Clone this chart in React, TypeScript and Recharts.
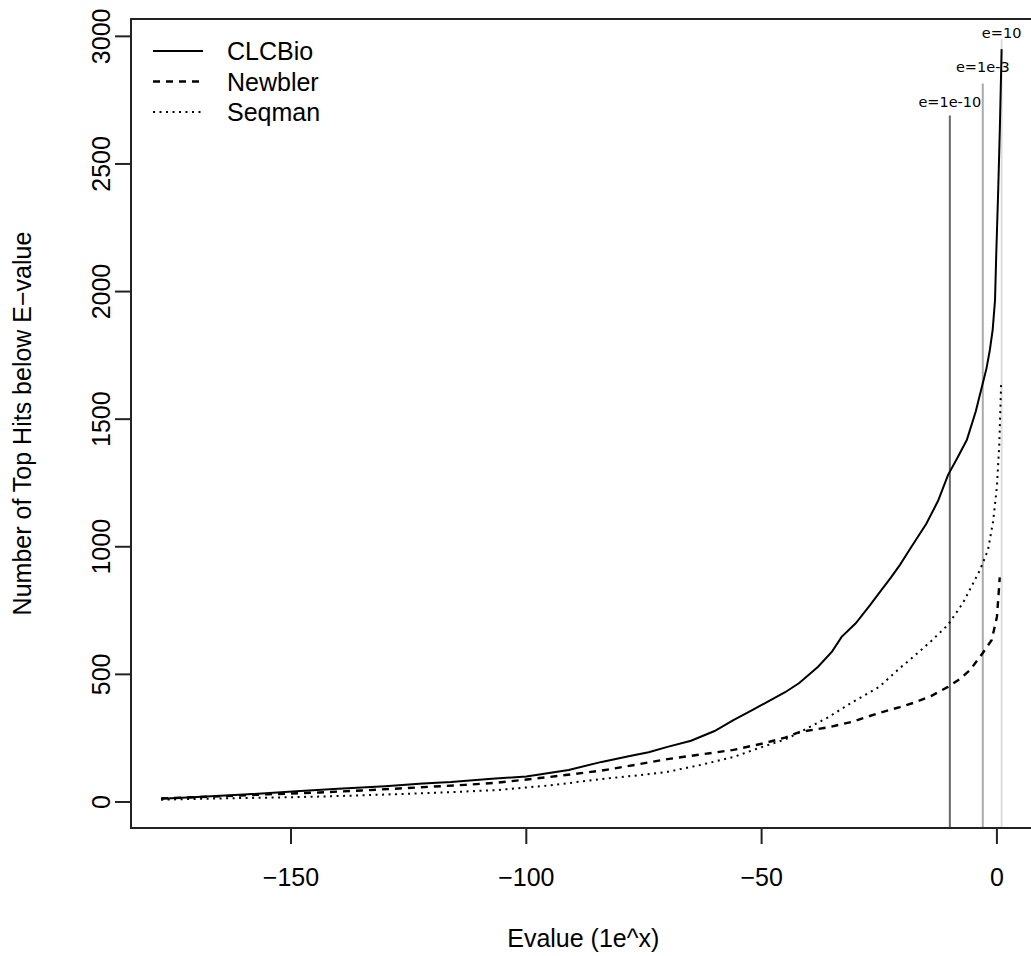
import React from 'react';
import { LineChart, Line, XAxis, YAxis, ReferenceLine, ReferenceDot, ReferenceArea, Legend } from 'recharts';

const clcbio: number[][] = [[-177.6,13],[-170,19],[-160,29],[-148,43],[-140,52],[-130,62],[-122,72],[-116,78],[-108,90],[-100,100],[-91,125],[-84,157],[-78,180],[-74,195],[-70,216],[-65,240],[-60,278],[-56,321],[-52,360],[-48,400],[-45,430],[-42,466],[-38,530],[-35,590],[-33,647],[-30,700],[-27,770],[-25,819],[-22.5,880],[-20.6,929],[-18.5,990],[-15,1090],[-12.5,1180],[-10.4,1281],[-8.5,1345],[-6.4,1418],[-4.5,1530],[-3.2,1626],[-2.2,1700],[-1.5,1771],[-0.9,1850],[-0.4,1967],[-0.15,2140],[0.28,2400],[0.64,2650],[1,2950]];
const newbler: number[][] = [[-177.6,14],[-165,22],[-155,30],[-144,37],[-135,45],[-127,53],[-120,60],[-113,67],[-106,76],[-95,98],[-84,123],[-77,145],[-70,168],[-63,186],[-56,204],[-50,228],[-45,252],[-42,274],[-36,292],[-31,313],[-25,349],[-20.6,372],[-17.8,388],[-14,415],[-10.4,451],[-8,480],[-5.7,517],[-3,584],[-1.1,635],[0,725],[0.3,800],[0.6,880]];
const seqman: number[][] = [[-177.6,9],[-165,14],[-155,17],[-144,21],[-135,26],[-127,31],[-120,36],[-113,41],[-106,47],[-95,65],[-84,90],[-77,103],[-70,118],[-63,145],[-56,176],[-50,215],[-45,245],[-42,272],[-36,330],[-31,388],[-25,451],[-20.6,525],[-17.8,568],[-14,630],[-10.4,694],[-7.2,780],[-3.6,909],[-1.9,987],[-0.8,1100],[0,1235],[0.5,1400],[0.9,1640]];

const xTicks = [-150, -100, -50, 0];
const yTicks = [0, 500, 1000, 1500, 2000, 2500, 3000];
const xDomain = [-184, 8.2];
const yDomain = [-102, 3068];

const cutoffX = [-10, -3, 1];
const cutoffTop = [2690, 2815, 2990];
const cutoffLabelY = [2722, 2862, 2995];
const cutoffLabels = ['e=1e-10', 'e=1e-3', 'e=10'];
const cutoffColors = ['#666666', '#aaaaaa', '#dddddd'];

const seriesNames = ['CLCBio', 'Newbler', 'Seqman'];
const seriesData = [clcbio, newbler, seqman];
const seriesDash = ['0', '7 6', '2 4.5'];
const seriesWidth = [2, 2.4, 2];

const FONT = '"Liberation Sans", Arial, Helvetica, sans-serif';

const toObjs = (arr: number[][]) => arr.map(([x, y]) => ({ x, y }));
const fmt = (v: number) => (v < 0 ? '\u2212' + Math.abs(v) : String(v));

const XTick = (props: any) => {
  const { x, y, payload } = props;
  return (
    <text x={x} y={y + 40} textAnchor="middle" fontFamily={FONT} fontSize={25} fill="#000">
      {fmt(payload.value)}
    </text>
  );
};

const YTick = (props: any) => {
  const { x, y, payload } = props;
  const tx = x - 3;
  return (
    <text x={tx} y={y} transform={`rotate(-90, ${tx}, ${y})`} textAnchor="middle" fontFamily={FONT} fontSize={25} fill="#000">
      {fmt(payload.value)}
    </text>
  );
};

const LegendContent = () => (
  <svg width={400} height={140} style={{ display: 'block' }}>
    {seriesNames.map((n, i) => (
      <g key={n}>
        <line x1={153} x2={203} y1={51 + i * 30.5} y2={51 + i * 30.5} stroke="#000" strokeWidth={seriesWidth[i]} strokeDasharray={seriesDash[i]} />
        <text x={227} y={60 + i * 30.5} fontFamily={FONT} fontSize={25} fill="#000">{n}</text>
      </g>
    ))}
  </svg>
);

export default function App() {
  return (
    <div style={{ position: 'fixed', left: 0, top: 0, width: 1031, height: 956, overflow: 'hidden', background: '#fff' }}>
      <LineChart width={1060} height={956} margin={{ top: 19, right: 24.5, bottom: 0, left: 0 }}>
        <XAxis
          type="number"
          dataKey="x"
          domain={xDomain}
          ticks={xTicks}
          allowDataOverflow
          tickSize={16}
          tick={<XTick />}
          axisLine={{ stroke: '#222', strokeWidth: 2 }}
          tickLine={{ stroke: '#222', strokeWidth: 2 }}
          height={128}
          label={{
            content: (p: any) => {
              const vb = p.viewBox;
              return (
                <text x={vb.x + vb.width / 2} y={vb.y + 119} textAnchor="middle" fontFamily={FONT} fontSize={25} fill="#000">
                  Evalue (1e^x)
                </text>
              );
            },
          }}
        />
        <YAxis
          type="number"
          dataKey="y"
          domain={yDomain}
          ticks={yTicks}
          allowDataOverflow
          tickSize={16}
          tick={<YTick />}
          axisLine={{ stroke: '#222', strokeWidth: 2 }}
          tickLine={{ stroke: '#222', strokeWidth: 2 }}
          width={131}
          label={{
            content: (p: any) => {
              const vb = p.viewBox;
              const cx = 31;
              const cy = vb.y + vb.height / 2;
              return (
                <text x={cx} y={cy} transform={`rotate(-90, ${cx}, ${cy})`} textAnchor="middle" fontFamily={FONT} fontSize={25} fill="#000">
                  Number of Top Hits below E−value
                </text>
              );
            },
          }}
        />
        <ReferenceArea x1={xDomain[0]} x2={xDomain[1]} y1={yDomain[0]} y2={yDomain[1]} fill="none" stroke="#222" strokeWidth={2} ifOverflow="visible" />
        {cutoffX.map((cx, i) => (
          <ReferenceLine
            key={'l' + i}
            segment={[{ x: cx, y: yDomain[0] }, { x: cx, y: cutoffTop[i] }]}
            stroke={cutoffColors[i]}
            strokeWidth={2}
            ifOverflow="visible"
          />
        ))}
        {cutoffX.map((cx, i) => (
          <ReferenceDot
            key={'d' + i}
            x={cx}
            y={cutoffLabelY[i]}
            r={0}
            ifOverflow="visible"
            shape={(p: any) => (
              <text x={p.cx} y={p.cy} textAnchor="middle" fontFamily='"DejaVu Sans", sans-serif' fontSize={14.5} fill="#000">
                {cutoffLabels[i]}
              </text>
            )}
          />
        ))}
        {seriesNames.map((n, i) => (
          <Line
            key={n}
            name={n}
            data={toObjs(seriesData[i])}
            dataKey="y"
            type="linear"
            stroke="#000"
            strokeWidth={seriesWidth[i]}
            strokeDasharray={seriesDash[i] === '0' ? undefined : seriesDash[i]}
            dot={false}
            activeDot={false}
            isAnimationActive={false}
          />
        ))}
        <Legend
          layout="vertical"
          align="center"
          verticalAlign="middle"
          wrapperStyle={{ left: 0, top: 0, width: 400, height: 140 }}
          content={<LegendContent />}
        />
      </LineChart>
    </div>
  );
}
